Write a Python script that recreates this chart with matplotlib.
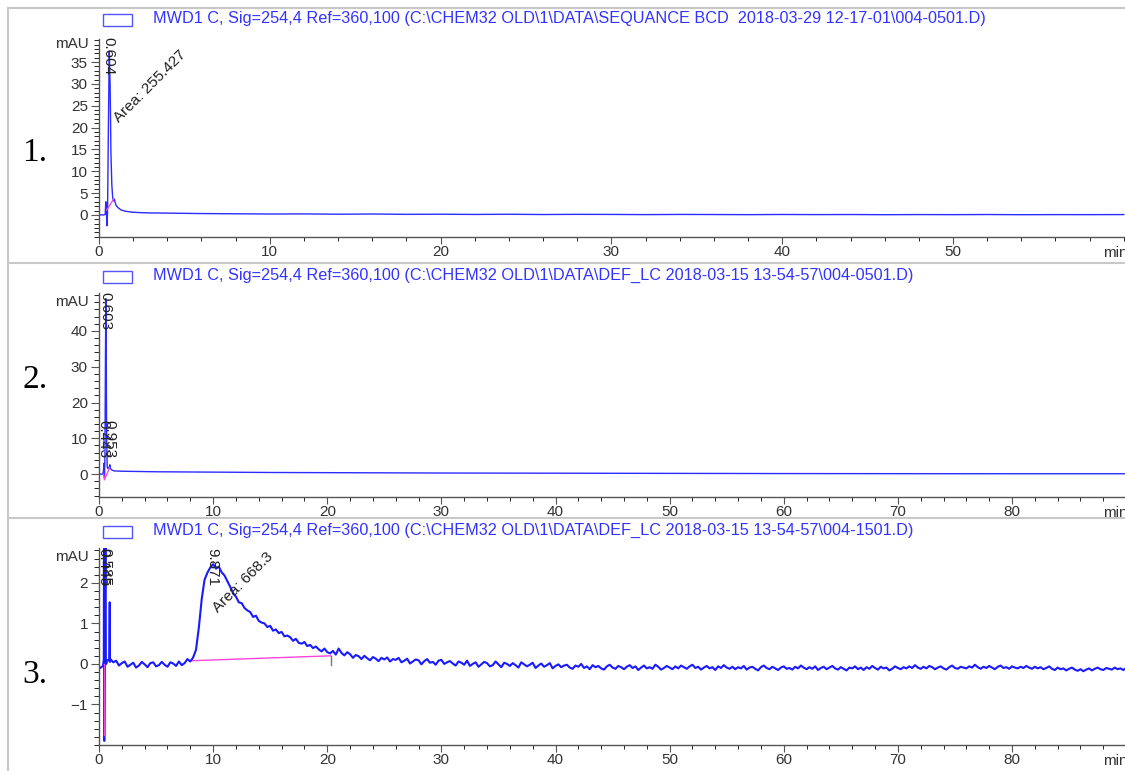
import numpy as np
import matplotlib.pyplot as plt
from matplotlib.lines import Line2D
from matplotlib.patches import Rectangle
from matplotlib.ticker import MultipleLocator

plt.rcParams['font.family'] = ['Liberation Sans', 'DejaVu Sans']

BLUE = '#2b2bff'
PINK = '#ff44dd'
AXC = '#555555'

headers = [
    r"MWD1 C, Sig=254,4 Ref=360,100 (C:\CHEM32 OLD\1\DATA\SEQUANCE BCD  2018-03-29 12-17-01\004-0501.D)",
    r"MWD1 C, Sig=254,4 Ref=360,100 (C:\CHEM32 OLD\1\DATA\DEF_LC 2018-03-15 13-54-57\004-0501.D)",
    r"MWD1 C, Sig=254,4 Ref=360,100 (C:\CHEM32 OLD\1\DATA\DEF_LC 2018-03-15 13-54-57\004-1501.D)",
]
panel_names = ["1.", "2.", "3."]

# trace 1 (min, mAU)
p1_time = [0, 0.30, 0.36, 0.40, 0.43, 0.46, 0.50, 0.55, 0.60, 0.65, 0.70, 0.75, 0.80,
           0.85, 0.90, 0.95, 1.0, 1.1, 1.3, 1.6, 2.0, 2.5, 3, 4, 5, 6, 8, 10, 12, 14,
           16, 18, 20, 22, 24, 26, 28, 30, 32, 34, 36, 38, 40, 42, 44, 46, 48, 50,
           52, 54, 56, 58, 60]
p1_signal = [0, 0, 0.1, 3.0, 1.5, -2.5, 0.5, 20, 37.5, 30, 14, 7, 4, 3.2, 3.6, 2.8,
             2.2, 1.7, 1.1, 0.8, 0.6, 0.5, 0.45, 0.4, 0.35, 0.3, 0.25, 0.2, 0.22,
             0.15, 0.2, 0.12, 0.15, 0.1, 0.14, 0.08, 0.12, 0.1, 0.06, 0.1, 0.08,
             0.05, 0.09, 0.06, 0.08, 0.04, 0.07, 0.05, 0.08, 0.04, 0.06, 0.05, 0.07]
p1_base_t = [0.45, 0.85]
p1_base_y = [1.1, 3.6]

# trace 2
p2_time = [0, 0.30, 0.38, 0.44, 0.48, 0.52, 0.56, 0.60, 0.63, 0.67, 0.72, 0.80,
           0.90, 0.95, 1.0, 1.1, 1.3, 1.6, 2.0, 3, 5, 10, 15, 20, 30, 40, 50, 60,
           70, 80, 90]
p2_signal = [0, 0, 0.5, 3.0, -1.0, 5, 30, 49, 35, 10, 2, 1.5, 2.0, 2.6, 1.6, 1.2,
             0.9, 0.85, 0.8, 0.75, 0.65, 0.55, 0.45, 0.4, 0.3, 0.25, 0.2, 0.15,
             0.12, 0.1, 0.1]
p2_base_t = [0.40, 0.47, 0.93]
p2_base_y = [0.0, -1.6, 1.8]

# trace 3: first minute, then sampled every 0.25 min from 1.0 to 90.0
p3_early_t = [0.0, 0.2, 0.35, 0.42, 0.44, 0.46, 0.50, 0.55, 0.58, 0.60, 0.64,
              0.70, 0.80, 0.90, 0.94, 0.96, 0.98]
p3_early_y = [-0.12, -0.08, -0.05, 0.1, 3.5, -1.9, 0.0, 3.5, 3.5, 0.05, 0.0,
              0.08, 0.1, 0.08, 1.52, 0.05, 0.08]
p3_start, p3_step = 1.0, 0.25
p3_signal = [
    0.12, 0.04, 0.08, -0.04, 0.02, 0.06, -0.07, -0.02, 0.03, -0.09, -0.04, 0.05, -0.01, -0.08, 0.02, 0.04, -0.06, -0.03, 0.05, -0.02,
    -0.07, 0.04, 0.01, -0.05, 0.06, -0.03, 0.02, 0.12, 0.06, 0.16, 0.35, 0.90, 1.60, 2.08, 2.25, 2.38, 2.46, 2.35, 2.40, 2.26,
    2.18, 2.04, 1.90, 1.74, 1.66, 1.52, 1.50, 1.38, 1.32, 1.28, 1.16, 1.19, 1.06, 1.02, 1.00, 0.91, 0.94, 0.82, 0.85, 0.76,
    0.79, 0.68, 0.70, 0.66, 0.57, 0.62, 0.52, 0.50, 0.54, 0.44, 0.47, 0.39, 0.43, 0.36, 0.31, 0.38, 0.29, 0.26, 0.32, 0.23,
    0.38, 0.27, 0.21, 0.29, 0.24, 0.15, 0.22, 0.19, 0.12, 0.20, 0.14, 0.09, 0.17, 0.13, 0.07, 0.15, 0.11, 0.16, 0.06, 0.12,
    0.10, 0.15, 0.04, 0.08, 0.13, 0.01, 0.06, 0.11, 0.09, -0.01, 0.07, 0.12, 0.03, 0.05, -0.02, 0.08, 0.10, 0.00, 0.04, 0.07,
    0.01, -0.04, 0.06, 0.03, -0.02, 0.08, -0.05, 0.00, 0.04, -0.07, -0.01, 0.05, 0.02, -0.06, -0.03, 0.06, -0.01, -0.08, 0.03, 0.00,
    -0.05, 0.02, -0.03, -0.09, 0.04, -0.01, -0.06, -0.02, 0.03, -0.10, -0.04, 0.01, -0.07, -0.03, 0.02, -0.11, -0.05, -0.01, -0.08, -0.04,
    -0.02, -0.09, -0.12, -0.04, -0.07, 0.00, -0.10, -0.06, -0.13, -0.03, -0.08, -0.05, -0.11, -0.14, -0.06, -0.02, -0.09, -0.12, -0.05, -0.08,
    -0.13, -0.07, -0.03, -0.10, -0.06, -0.15, -0.09, -0.04, -0.11, -0.08, -0.12, -0.02, -0.07, -0.14, -0.10, -0.05, -0.09, -0.13, -0.06, -0.11,
    -0.04, -0.08, -0.12, -0.06, -0.02, -0.10, -0.07, -0.14, -0.09, -0.05, -0.11, -0.08, -0.15, -0.06, -0.10, -0.03, -0.09, -0.12, -0.07, -0.13,
    -0.08, -0.11, -0.05, -0.14, -0.09, -0.07, -0.12, -0.16, -0.08, -0.04, -0.10, -0.13, -0.07, -0.11, -0.15, -0.09, -0.06, -0.12, -0.10, -0.14,
    -0.07, -0.11, -0.04, -0.09, -0.13, -0.08, -0.12, -0.06, -0.15, -0.10, -0.07, -0.13, -0.09, -0.05, -0.11, -0.14, -0.08, -0.12, -0.16, -0.09,
    -0.11, -0.06, -0.13, -0.09, -0.15, -0.08, -0.12, -0.05, -0.10, -0.14, -0.07, -0.11, -0.09, -0.16, -0.12, -0.06, -0.10, -0.13, -0.08, -0.11,
    -0.06, -0.10, -0.03, -0.09, -0.12, -0.07, -0.11, -0.05, -0.08, -0.13, -0.09, -0.06, -0.11, -0.14, -0.08, -0.04, -0.10, -0.12, -0.07, -0.09,
    -0.11, -0.06, -0.09, -0.02, -0.08, -0.12, -0.07, -0.10, -0.05, -0.09, -0.13, -0.07, -0.04, -0.10, -0.08, -0.12, -0.06, -0.09, -0.11, -0.07,
    -0.10, -0.05, -0.09, -0.12, -0.07, -0.11, -0.08, -0.13, -0.10, -0.06, -0.12, -0.15, -0.09, -0.13, -0.11, -0.16, -0.12, -0.09, -0.14, -0.17,
    -0.13, -0.18, -0.14, -0.11, -0.16, -0.12, -0.09, -0.13, -0.15, -0.10, -0.12, -0.14, -0.09, -0.13, -0.11, -0.15, -0.10,
]
p3_base_t = [8.2, 20.3]
p3_base_y = [0.08, 0.2]
p3_dip_t = [0.45, 0.45]
p3_dip_y = [0.0, -1.75]

fig = plt.figure(figsize=(11.25, 7.71), dpi=100)
W, H = 1125.0, 771.0
FS = 11


def px_axes(top, bottom):
    return fig.add_axes([99 / W, 1 - bottom / H, 1 - 99 / W, (bottom - top) / H])


def style(ax, xmax, xticks, ylim, ymaj, ymin):
    ax.set_xlim(0, xmax)
    ax.set_ylim(*ylim)
    for s in ['top', 'right']:
        ax.spines[s].set_visible(False)
    for s in ['left', 'bottom']:
        ax.spines[s].set_color(AXC)
        ax.spines[s].set_linewidth(1.0)
    ax.set_xticks(xticks)
    ax.xaxis.set_minor_locator(MultipleLocator(2))
    ax.yaxis.set_major_locator(MultipleLocator(ymaj))
    ax.yaxis.set_minor_locator(MultipleLocator(ymin))
    ax.tick_params(colors=AXC, labelcolor='#333333', labelsize=FS)
    ax.tick_params(axis='x', which='major', length=5, pad=1)
    ax.tick_params(axis='x', which='minor', length=3)
    ax.tick_params(axis='y', which='major', length=6, pad=2)
    ax.tick_params(axis='y', which='minor', length=3.5)
    ax.text(0.9786, -0.045, 'min', transform=ax.transAxes, fontsize=FS,
            color='#333333', ha='left', va='top', clip_on=False)


# panel 1
ax1 = px_axes(39, 237)
style(ax1, 60.07, [0, 10, 20, 30, 40, 50], (-5.07, 40.3), 5, 1)
ax1.set_yticks([0, 5, 10, 15, 20, 25, 30, 35])
ax1.plot(p1_time, p1_signal, color=BLUE, lw=1.0)
ax1.plot(p1_base_t, p1_base_y, color=PINK, lw=1.0)
ax1.text(-0.6, 39.1, 'mAU', fontsize=FS, color='#333333', ha='right', va='center')
ax1.text(0.55, 40.8, '0.604', rotation=-90, fontsize=FS, color='#222222',
         ha='center', va='top')
ax1.text(1.3, 20.5, 'Area: 255.427', rotation=45, rotation_mode='anchor',
         fontsize=FS, color='#222222', ha='left', va='bottom')

# panel 2
ax2 = px_axes(293, 497)
style(ax2, 89.9, [0, 10, 20, 30, 40, 50, 60, 70, 80], (-6.4, 50.6), 10, 2)
ax2.set_yticks([0, 10, 20, 30, 40])
ax2.plot(p2_time, p2_signal, color=BLUE, lw=1.0)
ax2.plot(p2_base_t, p2_base_y, color=PINK, lw=1.0)
ax2.text(-0.9, 48.1, 'mAU', fontsize=FS, color='#333333', ha='right', va='center')
ax2.text(0.6, 51.0, '0.603', rotation=-90, fontsize=FS, color='#222222',
         ha='center', va='top')
ax2.text(0.35, 15.0, '0.443', rotation=-90, fontsize=FS, color='#222222',
         ha='center', va='top')
ax2.text(0.95, 15.0, '0.953', rotation=-90, fontsize=FS, color='#222222',
         ha='center', va='top')

# panel 3
p3_time = np.concatenate([p3_early_t, p3_start + p3_step * np.arange(len(p3_signal))])
p3_all = np.concatenate([p3_early_y, p3_signal])
ax3 = px_axes(548, 745)
style(ax3, 89.9, [0, 10, 20, 30, 40, 50, 60, 70, 80], (-2.0, 2.86), 1, 0.2)
ax3.set_yticks([-1, 0, 1, 2])
ax3.plot(p3_time, p3_all, color='#1a1aff', lw=1.5)
ax3.plot(p3_base_t, p3_base_y, color=PINK, lw=1.0)
ax3.plot(p3_dip_t, p3_dip_y, color=PINK, lw=1.0)
ax3.plot([20.3, 20.3], [0.2, -0.02], color='#777777', lw=1.0)
ax3.text(-0.9, 2.64, 'mAU', fontsize=FS, color='#333333', ha='right', va='center')
ax3.text(0.35, 2.87, '0.445', rotation=-90, fontsize=FS, color='#222222',
         ha='center', va='top')
ax3.text(0.55, 2.87, '0.585', rotation=-90, fontsize=FS, color='#222222',
         ha='center', va='top')
ax3.text(9.9, 2.87, '9.871', rotation=-90, fontsize=FS, color='#222222',
         ha='center', va='top')
ax3.text(10.6, 1.2, 'Area: 668.3', rotation=45, rotation_mode='anchor',
         fontsize=FS, color='#222222', ha='left', va='bottom')

# headers, legend boxes, panel numbers, frame lines
for top, head, name, ny in zip([8, 265, 520], headers, panel_names, [153, 380, 675]):
    fig.add_artist(Rectangle((103 / W, 1 - (top + 18) / H), 29 / W, 12 / H,
                             transform=fig.transFigure, fill=False,
                             edgecolor='#5555ff', lw=1.0))
    fig.text(153 / W, 1 - (top + 10) / H, head, fontsize=11.7, color='#3333ff',
             ha='left', va='center')
    fig.text(22 / W, 1 - ny / H, name, fontsize=24, family='Liberation Serif',
             color='black', ha='left', va='center')

for y in [8, 263, 518]:
    fig.add_artist(Line2D([8 / W, 1], [1 - y / H, 1 - y / H], color='#c8c8c8', lw=1.5))
fig.add_artist(Line2D([8 / W, 8 / W], [1 - 8 / H, 0], color='#c8c8c8', lw=1.5))

fig.savefig('out.png', dpi=100)
